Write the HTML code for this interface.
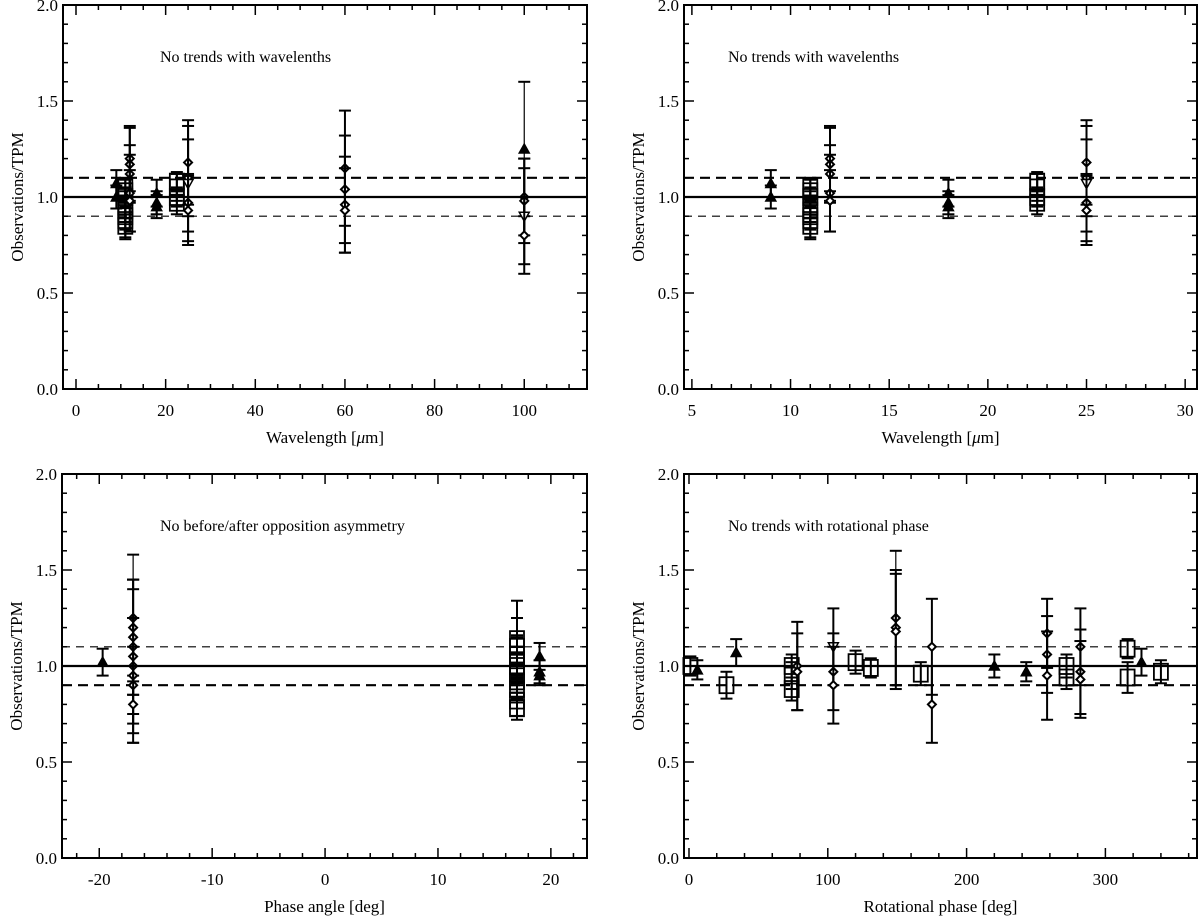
<!DOCTYPE html>
<html><head><meta charset="utf-8"><style>
body{margin:0;background:#fff;}
svg{display:block;font-family:"Liberation Serif",serif;}
</style></head><body>
<svg id="fig" width="1200" height="923" viewBox="0 0 1200 923" xmlns="http://www.w3.org/2000/svg"></svg>
<script>
// ---- Data (wavelength panels share data) ----
const wlX   = [9,9,11,11,11,11,11,11,11,11,12,12,12,12,12,18,18,18,22.5,22.5,22.5,22.5,25,25,25,25,25,60,60,60,60,100,100,100,100,100];
const wlY   = [1.07,1.0,0.85,0.9,0.95,1.0,1.03,1.05,0.88,0.93,1.2,1.17,1.12,1.02,0.98,1.02,0.95,0.97,1.0,1.05,0.97,1.08,1.18,1.1,1.07,0.97,0.93,1.15,1.04,0.96,0.93,1.25,1.0,0.98,0.9,0.8];
const wlE   = [0.07,0.06,0.06,0.07,0.08,0.05,0.06,0.05,0.1,0.06,0.17,0.19,0.15,0.2,0.16,0.07,0.06,0.06,0.05,0.07,0.06,0.05,0.22,0.2,0.3,0.15,0.18,0.3,0.28,0.25,0.22,0.35,0.2,0.22,0.25,0.2];
const wlS   = ['t','t','s','s','s','s','s','s','s','s','d','d','d','d','d','t','t','t','s','s','s','s','d','d','v','d','d','d','d','d','d','t','d','d','v','d'];

const paX = [-19.7,-17,-17,-17,-17,-17,-17,-17,-17,-17,17,17,17,17,17,17,17,17,17,17,19,19,19];
const paY = [1.02,1.25,1.2,1.15,1.1,1.05,1.0,0.95,0.9,0.8,0.78,0.82,0.88,0.92,0.96,1.0,1.03,1.06,1.1,1.14,1.05,0.97,0.95];
const paE = [0.07,0.33,0.25,0.3,0.35,0.2,0.4,0.3,0.2,0.2,0.06,0.08,0.07,0.09,0.1,0.07,0.12,0.1,0.15,0.2,0.07,0.06,0.05];
const paS = ['t','d','d','d','d','d','d','d','d','d','s','s','s','s','s','s','s','s','s','s','t','t','t'];

const rpX = [1,6,27,34,74,74,74,78,78,104,104,104,120,131,149,149,149,167,175,175,220,243,258,258,258,272,272,282,282,282,316,316,326,340];
const rpY = [1.0,0.98,0.9,1.07,1.0,0.95,0.88,1.0,0.97,1.1,0.97,0.9,1.02,0.99,1.25,1.2,1.18,0.96,1.1,0.8,1.0,0.97,1.17,1.06,0.95,1.0,0.94,1.1,0.97,0.93,1.09,0.94,1.02,0.97];
const rpE = [0.05,0.05,0.07,0.07,0.06,0.07,0.06,0.23,0.2,0.2,0.2,0.2,0.06,0.05,0.35,0.3,0.3,0.06,0.25,0.2,0.06,0.05,0.18,0.2,0.23,0.06,0.06,0.2,0.22,0.2,0.05,0.08,0.07,0.06];
const rpS = ['s','t','s','t','s','s','s','d','d','v','d','d','s','s','d','d','d','s','d','d','t','t','d','d','d','s','s','d','d','d','s','s','t','s'];

const yTicks = ['0.0','0.5','1.0','1.5','2.0'];

const NS='http://www.w3.org/2000/svg';
const svg=document.getElementById('fig');
function mk(tag,attrs,parent){const e=document.createElementNS(NS,tag);for(const k in attrs)e.setAttribute(k,attrs[k]);(parent||svg).appendChild(e);return e;}

function panel(cfg){
  const g=mk('g',{});
  
  
  const {L,R,T,B,x0,x1}=cfg;
  const sx=v=>L+(v-x0)/(x1-x0)*(R-L);
  const sy=v=>B-v/2*(B-T);
  // frame
  const fr=mk('rect',{x:L,y:T,width:R-L,height:B-T,fill:'none',stroke:'#000','stroke-width':2},g);
  
  
  // y ticks
  for(let i=0;i<=20;i++){const v=i/10,y=sy(v),len=(i%5==0)?10:5;
    mk('line',{x1:L,x2:L+len,y1:y,y2:y,stroke:'#000','stroke-width':1.5},g);
    mk('line',{x1:R,x2:R-len,y1:y,y2:y,stroke:'#000','stroke-width':1.5},g);}
  yTicks.forEach(t=>{const tx=mk('text',{x:L-5,y:sy(+t)+6,'text-anchor':'end','font-size':17},g);tx.textContent=t;
    
    });
  // x ticks
  const start=Math.ceil(x0/cfg.minor)*cfg.minor;
  for(let v=start;v<=x1+1e-9;v+=cfg.minor){const x=sx(v);const maj=Math.abs(v/cfg.major-Math.round(v/cfg.major))<1e-6;const len=maj?10:5;
    mk('line',{x1:x,x2:x,y1:B,y2:B-len,stroke:'#000','stroke-width':1.5},g);
    mk('line',{x1:x,x2:x,y1:T,y2:T+len,stroke:'#000','stroke-width':1.5},g);
    if(maj){const tx=mk('text',{x:x,y:B+27,'text-anchor':'middle','font-size':17},g);tx.textContent=String(Math.round(v));
      
      }}
  const xt=mk('text',{x:(L+R)/2,y:B+54,'text-anchor':'middle','font-size':17},g);
  xt.innerHTML=cfg.xlabel;
  
  
  const yt=mk('text',{x:0,y:0,'text-anchor':'middle','font-size':17,transform:`translate(${L-40},${(T+B)/2}) rotate(-90)`},g);
  yt.textContent='Observations/TPM';
  
  
  const an=mk('text',{x:cfg.annX,y:T+57,'font-size':16},g);
  an.textContent=cfg.note;
  
  
  // reference lines
  const l1=mk('line',{x1:L,x2:R,y1:sy(1),y2:sy(1),stroke:'#000','stroke-width':2.2},g);
  
  
  const up=mk('line',{x1:L,x2:R,y1:sy(1.1),y2:sy(1.1),stroke:'#000','stroke-width':cfg.thickUp?2.2:1.2,'stroke-dasharray':cfg.thickUp?'10,6':'8,6'},g);
  
  
  const lo=mk('line',{x1:L,x2:R,y1:sy(0.9),y2:sy(0.9),stroke:'#000','stroke-width':cfg.thickUp?1.2:2.2,'stroke-dasharray':cfg.thickUp?'8,6':'10,6'},g);
  
  
  // data
  const dg=mk('g',{},g);
  for(let i=0;i<cfg.xs.length;i++){
    const xv=cfg.xs[i];if(xv<x0||xv>x1)continue;
    const x=sx(xv),y=sy(cfg.ys[i]),yt1=sy(cfg.ys[i]+cfg.es[i]),yb=sy(cfg.ys[i]-cfg.es[i]);
    const pg=mk('g',{},dg);
    
    
    const sw=cfg.es[i]>0.3?1.2:2;
    mk('line',{x1:x,x2:x,y1:yt1,y2:yb,stroke:'#000','stroke-width':sw},pg);
    mk('line',{x1:x-6,x2:x+6,y1:yt1,y2:yt1,stroke:'#000','stroke-width':2},pg);
    mk('line',{x1:x-6,x2:x+6,y1:yb,y2:yb,stroke:'#000','stroke-width':2},pg);
    const s=cfg.ss[i];
    if(s==='s')mk('rect',{x:x-7,y:y-8,width:14,height:16,fill:'none',stroke:'#000','stroke-width':1.8},pg);
    else if(s==='d')mk('path',{d:`M${x},${y-4}L${x+4},${y}L${x},${y+4}L${x-4},${y}Z`,fill:'#fff',stroke:'#000','stroke-width':2},pg);
    else if(s==='t')mk('path',{d:`M${x},${y-5}L${x+5},${y+4}L${x-5},${y+4}Z`,fill:'#000',stroke:'#000','stroke-width':1.5},pg);
    else mk('path',{d:`M${x},${y+5}L${x+5},${y-4}L${x-5},${y-4}Z`,fill:'#fff',stroke:'#000','stroke-width':1.5},pg);
  }
}
panel({name:'panel-wavelength-full',L:63,R:587,T:5,B:389,x0:-2.9,x1:114,major:20,minor:5,xlabel:'Wavelength [<tspan font-style="italic">μ</tspan>m]',annX:160,note:'No trends with wavelenths',thickUp:true,xs:wlX,ys:wlY,es:wlE,ss:wlS});
panel({name:'panel-wavelength-zoom',L:684,R:1197,T:5,B:389,x0:4.6,x1:30.6,major:5,minor:1,xlabel:'Wavelength [<tspan font-style="italic">μ</tspan>m]',annX:728,note:'No trends with wavelenths',thickUp:true,xs:wlX,ys:wlY,es:wlE,ss:wlS});
panel({name:'panel-phase-angle',L:62,R:587,T:474,B:858,x0:-23.3,x1:23.2,major:10,minor:2,xlabel:'Phase angle [deg]',annX:160,note:'No before/after opposition asymmetry',thickUp:false,xs:paX,ys:paY,es:paE,ss:paS});
panel({name:'panel-rotational-phase',L:684,R:1197,T:474,B:858,x0:-3.6,x1:366,major:100,minor:20,xlabel:'Rotational phase [deg]',annX:728,note:'No trends with rotational phase',thickUp:false,xs:rpX,ys:rpY,es:rpE,ss:rpS});
</script>
</body></html>
